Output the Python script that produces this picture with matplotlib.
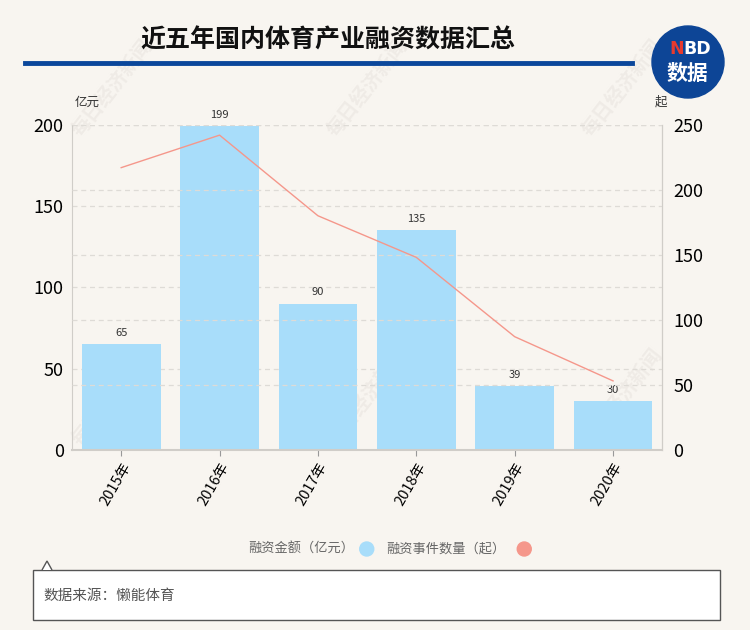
import matplotlib
matplotlib.use("Agg")
import matplotlib.pyplot as plt
from matplotlib.patches import Ellipse, Polygon, Rectangle
import numpy as np

plt.rcParams['font.family'] = ['Noto Sans CJK SC', 'DejaVu Sans']

years = ['2015年', '2016年', '2017年', '2018年', '2019年', '2020年']
amount = [65, 199, 90, 135, 39, 30]          # 融资金额（亿元）
events = [217, 242, 180, 148, 87, 53]        # 融资事件数量（起）
left_ticks = [0, 50, 100, 150, 200]
right_ticks = [0, 50, 100, 150, 200, 250]

BG = '#f8f5f0'
BAR = '#a8ddfa'
LINE = '#f5978b'
GRID = '#dedbd6'

fig = plt.figure(figsize=(7.5, 6.3), dpi=100, facecolor=BG)

# watermark (very faint, behind everything)
for (wx, wy) in [(0.15, 0.86), (0.49, 0.86), (0.83, 0.86), (0.15, 0.37), (0.49, 0.37), (0.83, 0.37)]:
    fig.text(wx, wy, '每日经济新闻', rotation=52, fontsize=14, color='#efebe6',
             ha='center', va='center', fontweight='bold', zorder=-5)

ax = fig.add_axes([0.096, 0.286, 0.787, 0.516])
ax.set_facecolor('none')
x = np.arange(len(years))
ax.bar(x, amount, width=0.8, color=BAR, zorder=2)
for xi, v in zip(x, amount):
    ax.text(xi, v + 4, str(v), ha='center', va='bottom', fontsize=8, color='#333333', zorder=5)
ax.set_ylim(0, 200)
ax.set_xlim(-0.5, len(years) - 0.5)
ax.set_yticks(left_ticks)
ax.set_yticklabels([str(t) for t in left_ticks], fontsize=13)
ax.set_xticks(x)
ax.set_xticklabels(years, rotation=60, ha='right', rotation_mode='anchor', fontsize=10.5)
for t in left_ticks[1:]:
    ax.axhline(t, color=GRID, lw=0.9, ls=(0, (4, 3)), zorder=1)
ax.tick_params(axis='y', length=0, pad=6)
ax.tick_params(axis='x', length=4, color='#999999')
ax.spines['top'].set_visible(False)
for s in ['left', 'bottom', 'right']:
    ax.spines[s].set_color('#d0cdc8')
ax.spines['bottom'].set_linewidth(1.5)

ax2 = ax.twinx()
ax2.plot(x, events, color=LINE, lw=1.0, zorder=4)
ax2.set_ylim(0, 250)
ax2.set_yticks(right_ticks)
ax2.set_yticklabels([str(t) for t in right_ticks], fontsize=13)
ax2.tick_params(axis='y', length=0, pad=8)
for t in right_ticks[1:]:
    ax2.axhline(t, color=GRID, lw=0.9, ls=(0, (4, 3)), zorder=1)
for s in ['top', 'left', 'bottom']:
    ax2.spines[s].set_visible(False)
ax2.spines['right'].set_color('#d0cdc8')
ax.set_zorder(ax2.get_zorder() - 1)
ax2.patch.set_visible(False)

fig.text(0.1, 0.838, '亿元', fontsize=9, ha='left', va='center', color='#333333')
fig.text(0.873, 0.838, '起', fontsize=9, ha='left', va='center', color='#333333')

# title
fig.text(0.437, 0.935, '近五年国内体育产业融资数据汇总', fontsize=18, fontweight='bold',
         ha='center', va='center', color='#111111')
fig.add_artist(plt.Line2D([0.033, 0.843], [0.9, 0.9], color='#0b479b', lw=3.5))

# logo
fig.add_artist(Ellipse((688 / 750, 1 - 62 / 630), 72 / 750, 72 / 630, transform=fig.transFigure,
                       color='#0d4596', zorder=3))
fig.text(0.902, 1 - 49 / 630, 'N', color='#e83a2e', fontsize=12.5, fontweight='bold',
         ha='center', va='center', family='DejaVu Sans', zorder=4)
fig.text(0.930, 1 - 49 / 630, 'BD', color='white', fontsize=12.5, fontweight='bold',
         ha='center', va='center', family='DejaVu Sans', zorder=4)
fig.text(0.917, 1 - 73 / 630, '数据', color='white', fontsize=15, fontweight='bold',
         ha='center', va='center', zorder=4)

# legend
ly = 1 - 549 / 630
fig.text(0.472, ly, '融资金额（亿元）', fontsize=9.5, color='#666666', ha='right', va='center')
fig.add_artist(Ellipse((0.489, ly), 14 / 750, 14 / 630, transform=fig.transFigure, color=BAR))
fig.text(0.515, ly, '融资事件数量（起）', fontsize=9.5, color='#666666', ha='left', va='center')
fig.add_artist(Ellipse((0.699, ly), 14 / 750, 14 / 630, transform=fig.transFigure, color=LINE))

# source box
x0, x1 = 33 / 750, 720 / 750
y0, y1 = 1 - 620 / 630, 1 - 570 / 630
fig.add_artist(Rectangle((x0, y0), x1 - x0, y1 - y0, transform=fig.transFigure,
                         facecolor='white', edgecolor='#555555', lw=1.0))
fig.add_artist(Polygon([(42 / 750, y1), (47 / 750, 1 - 561 / 630), (52 / 750, y1)],
                       closed=False, transform=fig.transFigure, facecolor='white',
                       edgecolor='#555555', lw=1.0))
fig.text(43 / 750, 1 - 596 / 630, '数据来源：懒能体育', fontsize=10.5, color='#555555',
         ha='left', va='center')

fig.savefig('out.png', dpi=100, facecolor=BG)
